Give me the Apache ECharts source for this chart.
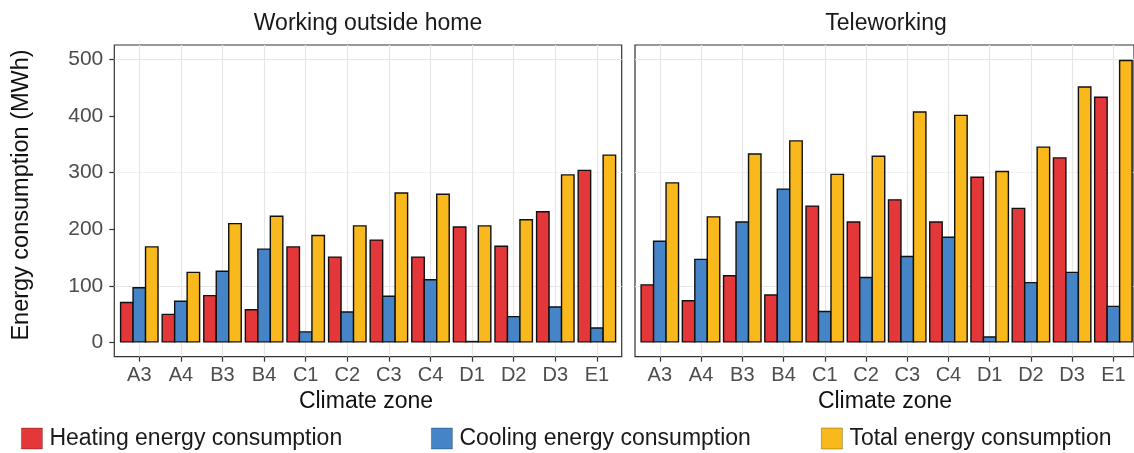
<!DOCTYPE html>
<html>
<head>
<meta charset="utf-8">
<script src="https://cdn.jsdelivr.net/npm/echarts@6/dist/echarts.min.js"></script>
<style>
  html, body { margin: 0; padding: 0; background: #ffffff; }
  #chart { width: 1134px; height: 453px; }
</style>
</head>
<body>
<div id="chart"></div>
<script>
// ---- data ----
var zones = ['A3','A4','B3','B4','C1','C2','C3','C4','D1','D2','D3','E1'];
var outsideHeating = [72, 51, 84, 59, 170, 152, 182, 152, 205, 171, 232, 305];
var outsideCooling = [98, 74, 127, 166, 20, 55, 83, 112, 3, 47, 64, 27];
var outsideTotal   = [170, 125, 211, 224, 190, 207, 265, 263, 207, 218, 297, 332];
var teleHeating = [103, 75, 119, 85, 242, 214, 253, 214, 293, 238, 327, 434];
var teleCooling = [180, 148, 214, 272, 56, 116, 153, 187, 11, 107, 125, 65];
var teleTotal   = [283, 223, 334, 357, 298, 330, 408, 402, 303, 346, 452, 499];
var yTicks = [0, 100, 200, 300, 400, 500];
var panelTitles = ['Working outside home', 'Teleworking'];
var seriesNames = ['Heating energy consumption', 'Cooling energy consumption', 'Total energy consumption'];

// ---- styles ----
var FONT = '"Liberation Sans", Arial, Helvetica, sans-serif';
var colors = ['#e4373a', '#4584c6', '#f9b81b'];
var TOP = 45, H = 311.7;
var Y_MIN = -25, Y_MAX = 525;
var BAND = 41.6;
var LW = 1.4;                       // bar outline width
var BW = BAND * 0.3 + LW;           // bar width incl. outline (outline drawn inside by ECharts)
var GAP = (-LW / BW * 100).toFixed(2) + '%';  // overlap so neighbouring outlines coincide

var chart = echarts.init(document.getElementById('chart'), null, {renderer: 'canvas'});

function panelGrid(left, width) {
  return { left: left, top: TOP, width: width, height: H, show: true,
           borderColor: '#333333', borderWidth: 1.2, backgroundColor: 'transparent', containLabel: false };
}
function dataGrid(left, width) {
  return { left: left, top: TOP, width: width, height: H, containLabel: false };
}
function panelX(gi) {
  return { gridIndex: gi, type: 'value', min: 0, max: 1, show: false };
}
function dataX(gi) {
  return {
    gridIndex: gi, type: 'category', data: zones,
    axisLine: { show: false, onZero: false },
    axisTick: { show: true, alignWithLabel: true, length: 5, lineStyle: { color: '#333333', width: 1.2 } },
    axisLabel: { fontSize: 20, color: '#4d4d4d', fontFamily: FONT, margin: 9 },
    splitLine: { show: true, alignWithLabel: true, lineStyle: { color: '#e6e6e6', width: 1.2 } }
  };
}
function panelY(gi, withLabels) {
  return {
    gridIndex: gi, type: 'value', min: Y_MIN, max: Y_MAX, interval: 25,
    axisLine: { show: false, onZero: false },
    axisTick: { show: withLabels, customValues: yTicks, length: 5, lineStyle: { color: '#333333', width: 1.2 } },
    axisLabel: { show: withLabels, customValues: yTicks, fontSize: 21, color: '#4d4d4d', fontFamily: FONT, margin: 11,
                 formatter: function (v) { return (v % 100 === 0 && v >= 0) ? String(v) : ''; } },
    splitLine: { show: true, lineStyle: { color: ['rgba(0,0,0,0)', '#e6e6e6', 'rgba(0,0,0,0)', '#f1f1f1'], width: 1.2 } }
  };
}
function dataY(gi) {
  return { gridIndex: gi, type: 'value', min: Y_MIN, max: Y_MAX, show: false, splitLine: { show: false } };
}
function bars(xi, arrays) {
  return arrays.map(function (arr, k) {
    return {
      type: 'bar', name: seriesNames[k], xAxisIndex: xi, yAxisIndex: xi, data: arr,
      barWidth: BW, barGap: GAP,
      itemStyle: { color: colors[k], borderColor: '#111111', borderWidth: LW },
      emphasis: { disabled: true }, silent: true, z: 3
    };
  });
}
function legendItem(name, left) {
  return {
    data: [name], left: left, top: 427, padding: 0, orient: 'horizontal',
    selectedMode: false, icon: 'rect', itemWidth: 21, itemHeight: 21,
    itemStyle: { borderColor: 'rgba(0,0,0,0.35)', borderWidth: 0.8 },
    textStyle: { fontSize: 23, color: '#1a1a1a', fontFamily: FONT, padding: [0, 0, 0, 2] }
  };
}
function txt(x, y, s, size, color, rot) {
  return { type: 'text', x: x, y: y, rotation: rot || 0, silent: true,
    style: { text: s, fontSize: size, fontFamily: FONT, fill: color, align: 'center', verticalAlign: 'middle' } };
}

var option = {
  animation: false,
  backgroundColor: '#ffffff',
  grid: [
    panelGrid(114.3, 507.4), dataGrid(118.5, 499.2),
    panelGrid(635, 507.6), dataGrid(639.2, 499.2)
  ],
  xAxis: [ panelX(0), dataX(1), panelX(2), dataX(3) ],
  yAxis: [ panelY(0, true), dataY(1), panelY(2, false), dataY(3) ],
  series: [].concat(
    bars(1, [outsideHeating, outsideCooling, outsideTotal]),
    bars(3, [teleHeating, teleCooling, teleTotal])
  ),
  legend: [
    legendItem(seriesNames[0], 21),
    legendItem(seriesNames[1], 431),
    legendItem(seriesNames[2], 821)
  ],
  graphic: [
    txt(368, 24, panelTitles[0], 23, '#1a1a1a'),
    txt(886, 24, panelTitles[1], 23, '#1a1a1a'),
    txt(366, 402, 'Climate zone', 23, '#111111'),
    txt(885, 402, 'Climate zone', 23, '#111111'),
    txt(22, 195, 'Energy consumption (MWh)', 23.5, '#111111', Math.PI / 2)
  ]
};
chart.setOption(option);
</script>
</body>
</html>
